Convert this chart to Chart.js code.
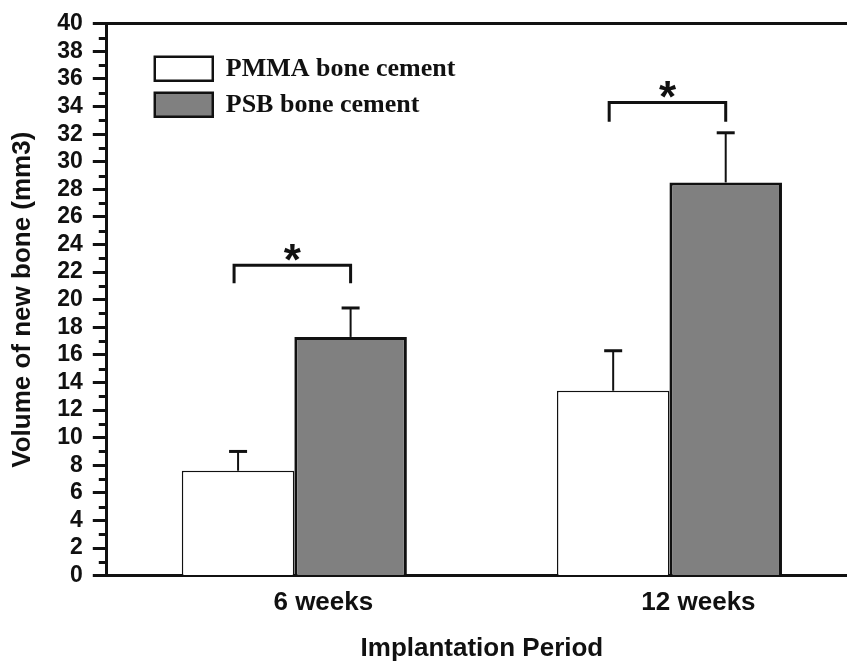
<!DOCTYPE html>
<html>
<head>
<script src="https://cdn.jsdelivr.net/npm/chart.js@4.4.0/dist/chart.umd.min.js"></script>
<style>
  body { margin: 0; overflow: hidden; background: #fff; }
  canvas { display: block; }
</style>
<script>
  // values (mm3)
  var periods = ['6 weeks', '12 weeks'];
  var pmmaVolume = [7.6, 13.4];
  var pmmaError = [1.4, 2.9];
  var psbVolume = [17.3, 28.5];
  var psbError = [2.1, 3.6];
  // significance brackets: bracket line and foot of its legs
  var bracketTop = [22.5, 34.3];
  var bracketFoot = [21.2, 32.9];
  var significance = ['*', '*'];
  var yMin = 0, yMax = 40, yStep = 2, yMinorStep = 1;

  var sans = "'Liberation Sans', Arial, sans-serif";
  var serif = "'Liberation Serif', 'Times New Roman', serif";
  var ink = '#111';

  // move the in-plot legend to where the figure has it
  var legendNudge = {
    id: 'legendNudge',
    afterLayout: function(chart) {
      var lg = chart.legend, ca = chart.chartArea;
      var w = lg.width, h = lg.height;
      lg.left = ca.left + 38;
      lg.top = ca.top + 22;
      lg.right = lg.left + w;
      lg.bottom = lg.top + h;
    }
  };

  // short unlabelled ticks at the odd values
  var minorTicks = {
    id: 'minorTicks',
    afterDraw: function(chart) {
      var y = chart.scales.y, ctx = chart.ctx, x0 = chart.chartArea.left;
      ctx.save();
      ctx.strokeStyle = ink;
      ctx.lineWidth = 3;
      for (var v = yMin + yMinorStep; v < yMax; v += yStep) {
        var py = Math.round(y.getPixelForValue(v)) + 0.5;
        ctx.beginPath();
        ctx.moveTo(x0 - 8, py);
        ctx.lineTo(x0, py);
        ctx.stroke();
      }
      ctx.restore();
    }
  };

  var errorBars = {
    id: 'errorBars',
    afterDatasetsDraw: function(chart) {
      var ctx = chart.ctx, y = chart.scales.y;
      var errs = [pmmaError, psbError];
      ctx.save();
      ctx.strokeStyle = ink;
      chart.data.datasets.forEach(function(ds, d) {
        chart.getDatasetMeta(d).data.forEach(function(bar, i) {
          var top = y.getPixelForValue(ds.data[i] + errs[d][i]);
          ctx.lineWidth = 2;
          ctx.beginPath();
          ctx.moveTo(bar.x, bar.y);
          ctx.lineTo(bar.x, top);
          ctx.stroke();
          ctx.lineWidth = 3;
          ctx.beginPath();
          ctx.moveTo(bar.x - 9, top);
          ctx.lineTo(bar.x + 9, top);
          ctx.stroke();
        });
      });

      var m0 = chart.getDatasetMeta(0).data, m1 = chart.getDatasetMeta(1).data;
      bracketTop.forEach(function(v, i) {
        var yt = y.getPixelForValue(v), yf = y.getPixelForValue(bracketFoot[i]);
        var xa = m0[i].x - 4, xb = m1[i].x;
        ctx.lineWidth = 3;
        ctx.beginPath();
        ctx.moveTo(xa, yf);
        ctx.lineTo(xa, yt);
        ctx.lineTo(xb, yt);
        ctx.lineTo(xb, yf);
        ctx.stroke();
        ctx.font = 'bold 44px ' + sans;
        ctx.textAlign = 'center';
        ctx.textBaseline = 'alphabetic';
        ctx.fillStyle = ink;
        ctx.fillText(significance[i], (xa + xb) / 2, yt + 10);
      });
      ctx.restore();
    }
  };

  function drawChart() {
    var ctx = document.getElementById('chart').getContext('2d');
    new Chart(ctx, {
      type: 'bar',
      data: {
        labels: periods,
        datasets: [
          { label: 'PMMA bone cement', data: pmmaVolume, xAxisID: 'x',
            backgroundColor: '#ffffff', borderColor: ink, borderWidth: 1.5 },
          { label: 'PSB bone cement', data: psbVolume, xAxisID: 'x',
            backgroundColor: '#808080', borderColor: ink, borderWidth: 3 }
        ]
      },
      options: {
        responsive: false,
        animation: false,
        layout: { padding: { left: 0, top: 20, right: 13, bottom: 0 } },
        datasets: { bar: { categoryPercentage: 0.6, barPercentage: 1.0 } },
        plugins: {
          tooltip: { enabled: false },
          legend: {
            position: 'chartArea',
            align: 'start',
            labels: {
              font: { family: serif, size: 26, weight: 'bold' },
              color: ink,
              boxWidth: 58,
              boxHeight: 24,
              padding: 10,
              generateLabels: function(chart) {
                var items = Chart.defaults.plugins.legend.labels.generateLabels(chart);
                items.forEach(function(it) { it.lineWidth = 2.5; it.strokeStyle = ink; });
                return items;
              }
            }
          }
        },
        scales: {
          x: {
            grid: { display: false, drawTicks: false },
            border: { display: true, width: 3, color: ink },
            ticks: { font: { family: sans, size: 26, weight: 'bold' }, color: ink, padding: 12, labelOffset: 29 },
            title: { display: true, text: 'Implantation Period', color: ink,
                     font: { family: sans, size: 26, weight: 'bold' }, padding: { top: 2, bottom: 0 } }
          },
          xTop: {
            position: 'top',
            grid: { display: false, drawTicks: false },
            border: { display: true, width: 3, color: ink },
            ticks: { display: false }
          },
          y: {
            min: yMin,
            max: yMax,
            ticks: { stepSize: yStep, autoSkip: false, font: { family: sans, size: 23, weight: 'bold' }, color: ink, padding: 10 },
            grid: { drawOnChartArea: false, tickLength: 14, tickWidth: 3, tickColor: ink },
            border: { width: 3, color: ink },
            title: { display: true, text: 'Volume of new bone (mm3)', color: ink,
                     font: { family: sans, size: 26, weight: 'bold' }, padding: { top: 7, bottom: 9 } }
          }
        }
      },
      plugins: [legendNudge, minorTicks, errorBars]
    });
  }
  window.addEventListener('load', drawChart);
</script>
</head>
<body>
  <canvas id="chart" width="870" height="664"></canvas>
</body>
</html>
